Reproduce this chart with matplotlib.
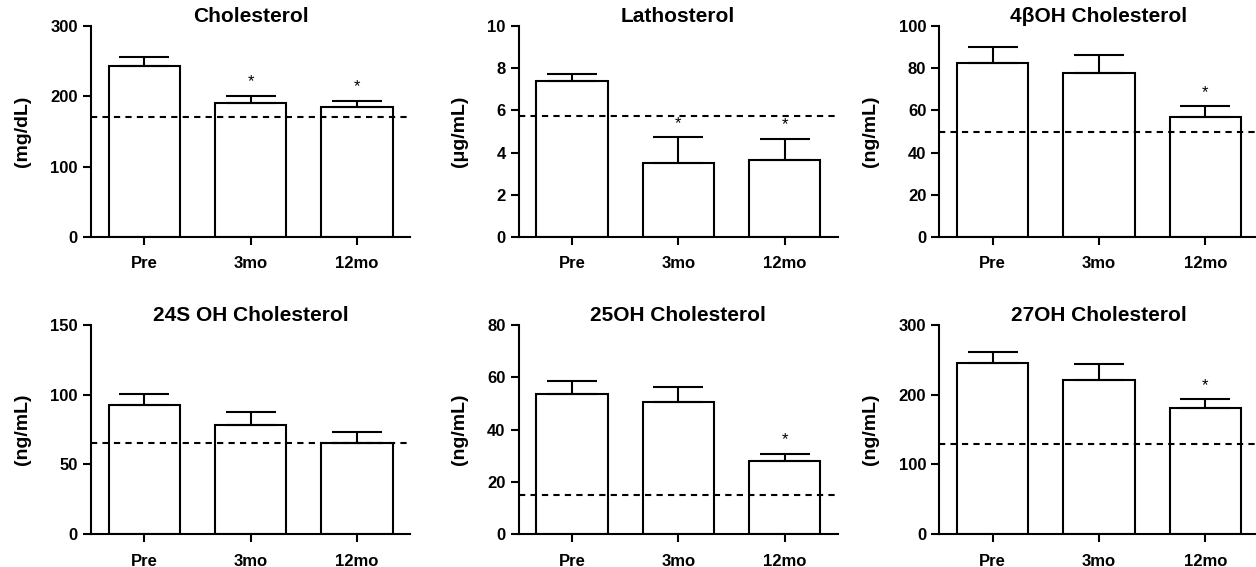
import numpy as np
import matplotlib.pyplot as plt

plt.rcParams['font.family'] = ['Liberation Sans', 'DejaVu Sans']
plt.rcParams['font.weight'] = 'bold'

groups = ["Pre", "3mo", "12mo"]

titles = ["Cholesterol", "Lathosterol", "4\u03b2OH Cholesterol",
          "24S OH Cholesterol", "25OH Cholesterol", "27OH Cholesterol"]
ylabels = ["(mg/dL)", "(\u03bcg/mL)", "(ng/mL)", "(ng/mL)", "(ng/mL)", "(ng/mL)"]

# bar heights (mean) and upper error (SEM)
means = [
    [243, 190, 185],
    [7.40, 3.49, 3.66],
    [82.3, 77.9, 56.8],
    [92.5, 78.5, 65.1],
    [53.4, 50.5, 28.1],
    [244.8, 220.5, 181.4],
]
errs = [
    [13, 11, 9],
    [0.33, 1.23, 1.01],
    [7.6, 8.5, 5.2],
    [7.7, 9.0, 7.9],
    [5.2, 5.7, 2.7],
    [16, 22.8, 12.4],
]
reference = [170.5, 5.74, 50.0, 65.5, 15.1, 129]
ymax = [300, 10, 100, 150, 80, 300]
ystep = [100, 2, 20, 50, 20, 100]
signif = [
    [False, True, True],
    [False, True, True],
    [False, False, True],
    [False, False, False],
    [False, False, True],
    [False, False, True],
]

fig = plt.figure(figsize=(12.56, 5.67), dpi=100)
lefts = [0.0725, 0.413, 0.748]
bottoms = [0.582, 0.058]
heights = [0.372, 0.369]

x = np.arange(len(groups))
for i in range(6):
    row, col = divmod(i, 3)
    ax = fig.add_axes([lefts[col], bottoms[row], 0.254, heights[row]])
    ax.bar(x, means[i], width=0.67, color="white", edgecolor="black", linewidth=1.5, zorder=2)
    ax.errorbar(x, means[i], yerr=[np.zeros(3), errs[i]], fmt="none",
                ecolor="black", elinewidth=1.5, capsize=18, capthick=1.5, zorder=3)
    ax.axhline(reference[i], color="black", linestyle=(0, (3, 2.5)), linewidth=1.5, zorder=4)
    for j in range(3):
        if signif[i][j]:
            ax.text(x[j], means[i][j] + errs[i][j] + ymax[i] * 0.03, "*",
                    ha="center", va="bottom", fontsize=12, fontweight="normal")
    ax.set_xlim(-0.5, 2.5)
    ax.set_ylim(0, ymax[i])
    ax.set_yticks(np.arange(0, ymax[i] + ystep[i] / 2, ystep[i]))
    ax.set_xticks(x)
    ax.set_xticklabels(groups)
    ax.spines["top"].set_visible(False)
    ax.spines["right"].set_visible(False)
    ax.spines["left"].set_linewidth(1.5)
    ax.spines["bottom"].set_linewidth(1.5)
    ax.tick_params(axis="both", width=1.5, length=6, labelsize=12)
    ax.tick_params(axis="x", pad=8)
    ax.set_title(titles[i], fontsize=15, fontweight="bold", pad=1)
    ax.set_ylabel(ylabels[i], fontsize=14, fontweight="bold", labelpad=14)

fig.savefig("out.png", dpi=100)
